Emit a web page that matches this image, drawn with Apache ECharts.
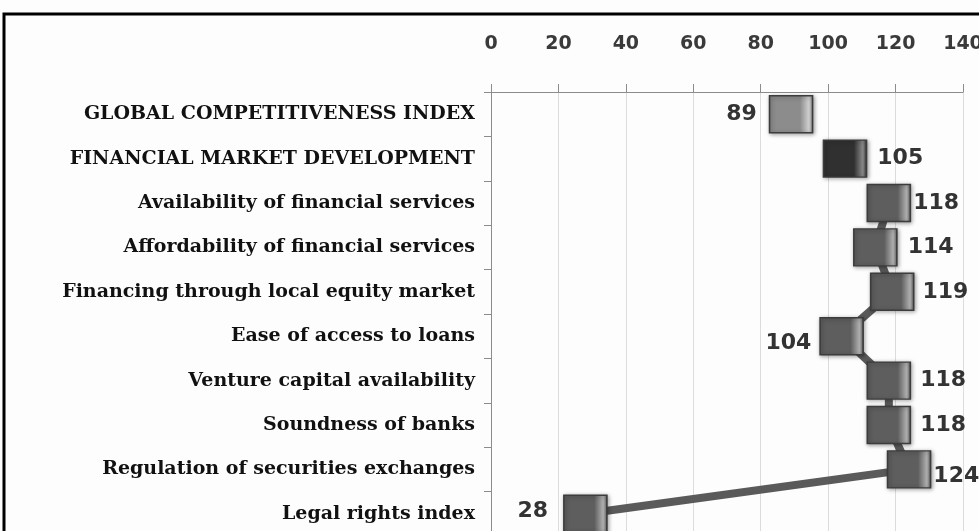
<!DOCTYPE html>
<html>
<head>
<meta charset="utf-8">
<script src="https://cdn.jsdelivr.net/npm/echarts@6/dist/echarts.min.js"></script>
<style>
  html, body { margin: 0; padding: 0; background: #fff; }
  #chart { width: 979px; height: 531px; }
</style>
</head>
<body>
<div id="chart"></div>
<script>
const categories = [
  'GLOBAL COMPETITIVENESS INDEX',
  'FINANCIAL MARKET DEVELOPMENT',
  'Availability of financial services',
  'Affordability of financial services',
  'Financing through local equity market',
  'Ease of access to loans',
  'Venture capital availability',
  'Soundness of banks',
  'Regulation of securities exchanges',
  'Legal rights index'
];
const gciRank = [89];
const fmdRank = [105];
const pillarRanks = [118, 114, 119, 104, 118, 118, 124, 28];
const xTicks = [0, 20, 40, 60, 80, 100, 120, 140];

// label placement per pillar point (style only)
const pillarLabel = [
  { position: 'right', distance: 2 },
  { position: 'right', distance: 10 },
  { position: 'right', distance: 8 },
  { position: 'left', distance: 8, offset: [0, 7] },
  { position: 'right', distance: 9 },
  { position: 'right', distance: 9 },
  { position: 'right', distance: 2, offset: [0, 7] },
  { position: 'left', distance: 15, offset: [0, -3] }
];

const chart = echarts.init(document.getElementById('chart'));

const markerSize = [43, 37];
const valueLabel = {
  show: true,
  fontFamily: 'DejaVu Sans',
  fontWeight: 'bold',
  fontSize: 22,
  color: '#333'
};
// flat face with a lighter bevel on the right edge
function markerStyle(base, light) {
  return {
    opacity: 1,
    color: new echarts.graphic.LinearGradient(0, 0, 1, 0, [
      { offset: 0, color: base },
      { offset: 0.7, color: base },
      { offset: 0.9, color: light },
      { offset: 1, color: base }
    ]),
    borderColor: '#3c3c3c',
    borderWidth: 1.5,
    shadowBlur: 4,
    shadowColor: 'rgba(0,0,0,0.35)',
    shadowOffsetX: 1,
    shadowOffsetY: 1
  };
}

chart.setOption({
  backgroundColor: '#fdfdfd',
  animation: false,
  graphic: [{
    type: 'rect',
    shape: { x: 4, y: 14, width: 1100, height: 700 },
    style: { fill: 'none', stroke: '#000', lineWidth: 3 },
    z: 100
  }],
  grid: { left: 491, top: 92, width: 472, height: 444, outerBoundsMode: 'none', containLabel: false },
  xAxis: {
    type: 'value',
    position: 'top',
    min: xTicks[0],
    max: xTicks[xTicks.length - 1],
    interval: xTicks[1] - xTicks[0],
    axisLine: { show: true, lineStyle: { color: '#8c8c8c', width: 1 } },
    axisTick: { show: true, length: 8, lineStyle: { color: '#8c8c8c' } },
    splitLine: { show: true, lineStyle: { color: '#dcdcdc' } },
    axisLabel: {
      margin: 38,
      fontFamily: 'DejaVu Sans',
      fontWeight: 'bold',
      fontSize: 19,
      color: '#3a3a3a'
    }
  },
  yAxis: {
    type: 'category',
    inverse: true,
    data: categories,
    axisLine: { show: true, lineStyle: { color: '#8c8c8c' } },
    axisTick: { show: true, length: 7, lineStyle: { color: '#8c8c8c' } },
    axisLabel: {
      margin: 16,
      fontFamily: 'DejaVu Serif',
      fontWeight: 'bold',
      fontSize: 19,
      color: '#111'
    }
  },
  series: [
    {
      type: 'line',
      symbol: 'none',
      data: pillarRanks.map((v, i) => [v, categories[i + 2]]),
      lineStyle: { color: '#5a5a5a', width: 8 },
      silent: true,
      z: 1
    },
    {
      type: 'scatter',
      symbol: 'rect',
      symbolSize: markerSize,
      data: gciRank.map(v => [v, categories[0]]),
      itemStyle: markerStyle('#8c8c8c', '#d0d0d0'),
      label: Object.assign({}, valueLabel, { position: 'left', distance: 12, formatter: p => p.value[0] }),
      z: 3
    },
    {
      type: 'scatter',
      symbol: 'rect',
      symbolSize: markerSize,
      data: fmdRank.map(v => [v, categories[1]]),
      itemStyle: markerStyle('#303030', '#8a8a8a'),
      label: Object.assign({}, valueLabel, { position: 'right', distance: 10, formatter: p => p.value[0] }),
      z: 3
    },
    {
      type: 'scatter',
      symbol: 'rect',
      symbolSize: markerSize,
      data: pillarRanks.map((v, i) => ({
        value: [v, categories[i + 2]],
        label: pillarLabel[i]
      })),
      itemStyle: markerStyle('#5e5e5e', '#b0b0b0'),
      label: Object.assign({}, valueLabel, { formatter: p => p.value[0] }),
      z: 3
    }
  ]
});
</script>
</body>
</html>
